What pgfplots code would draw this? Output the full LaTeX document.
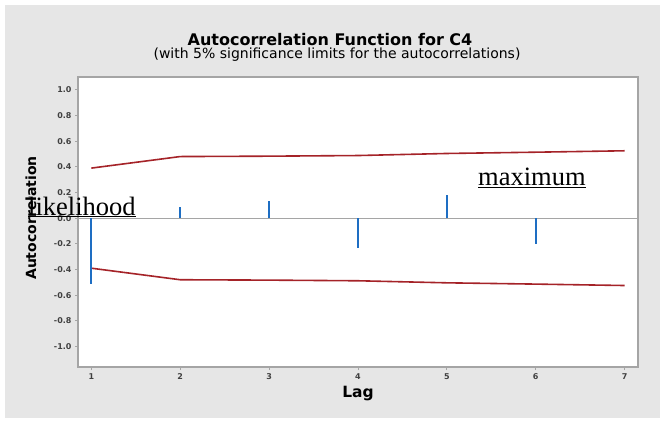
\documentclass[border=0pt]{standalone}
\usepackage{pgfplots}
\pgfplotsset{compat=1.18}
\usepackage{fontspec}
\setmainfont{DejaVu Sans}
\newfontfamily\serifovl{Liberation Serif}
\definecolor{bgpanel}{RGB}{230,230,230}
\definecolor{framegray}{RGB}{165,165,165}
\definecolor{acfblue}{RGB}{30,110,195}
\definecolor{limred}{RGB}{165,35,40}
\begin{document}
\begin{tikzpicture}
\useasboundingbox (0pt,0pt) rectangle (664pt,421pt);
\fill[white] (0pt,0pt) rectangle (664pt,421pt);
\fill[bgpanel] (5pt,3pt) rectangle (660pt,416pt);
\node[anchor=base, inner sep=0pt, font=\fontsize{16}{18}\selectfont\bfseries] at (330pt,375pt) {Autocorrelation Function for C4};
\node[anchor=base, inner sep=0pt, font=\fontsize{14}{16}\selectfont] at (337pt,362pt) {(with 5\% significance limits for the autocorrelations)};
\node[font=\fontsize{14}{16}\selectfont\bfseries, rotate=90] at (31pt,203pt) {Autocorrelation};
\node[font=\fontsize{15.5}{17}\selectfont\bfseries] at (358pt,27pt) {Lag};
\begin{axis}[
  at={(78pt,54pt)}, anchor=south west,
  width=560pt, height=290pt, scale only axis,
  xmin=0.85, xmax=7.15, ymin=-1.16, ymax=1.10,
  xtick={1,2,3,4,5,6,7},
  ytick={-1,-0.8,-0.6,-0.4,-0.2,0,0.2,0.4,0.6,0.8,1},
  yticklabel style={/pgf/number format/fixed,/pgf/number format/fixed zerofill,/pgf/number format/precision=1},
  /pgf/number format/assume math mode=true,
  ticklabel style={font=\fontsize{8}{9}\selectfont\bfseries, text=black!75},
  tick align=outside, tick pos=left,
  major tick length=3pt,
  tick style={framegray, line width=0.8pt},
  axis line style={framegray, line width=1.2pt},
  axis background/.style={fill=white},
  clip=false,
]
\addplot[framegray, line width=1pt] coordinates {(0.85,0) (7.15,0)};
\addplot[limred, line width=1.6pt] coordinates {(1,0.39) (2,0.48) (3,0.483) (4,0.488) (5,0.504) (6,0.514) (7,0.525)};
\addplot[limred, line width=1.6pt] coordinates {(1,-0.39) (2,-0.48) (3,-0.483) (4,-0.488) (5,-0.504) (6,-0.514) (7,-0.525)};
\addplot[ycomb, acfblue, line width=1.8pt, mark=none] coordinates {(1,-0.51) (2,0.09) (3,0.13) (4,-0.23) (5,0.18) (6,-0.20)};
\end{axis}
\node[anchor=base west, inner sep=0pt, font=\serifovl\fontsize{26.5}{30}\selectfont] at (28pt,206pt) {\underline{likelihood}};
\node[anchor=base west, inner sep=0pt, font=\serifovl\fontsize{26.5}{30}\selectfont] at (478pt,235pt) {\underline{maximum}};
\end{tikzpicture}
\end{document}
